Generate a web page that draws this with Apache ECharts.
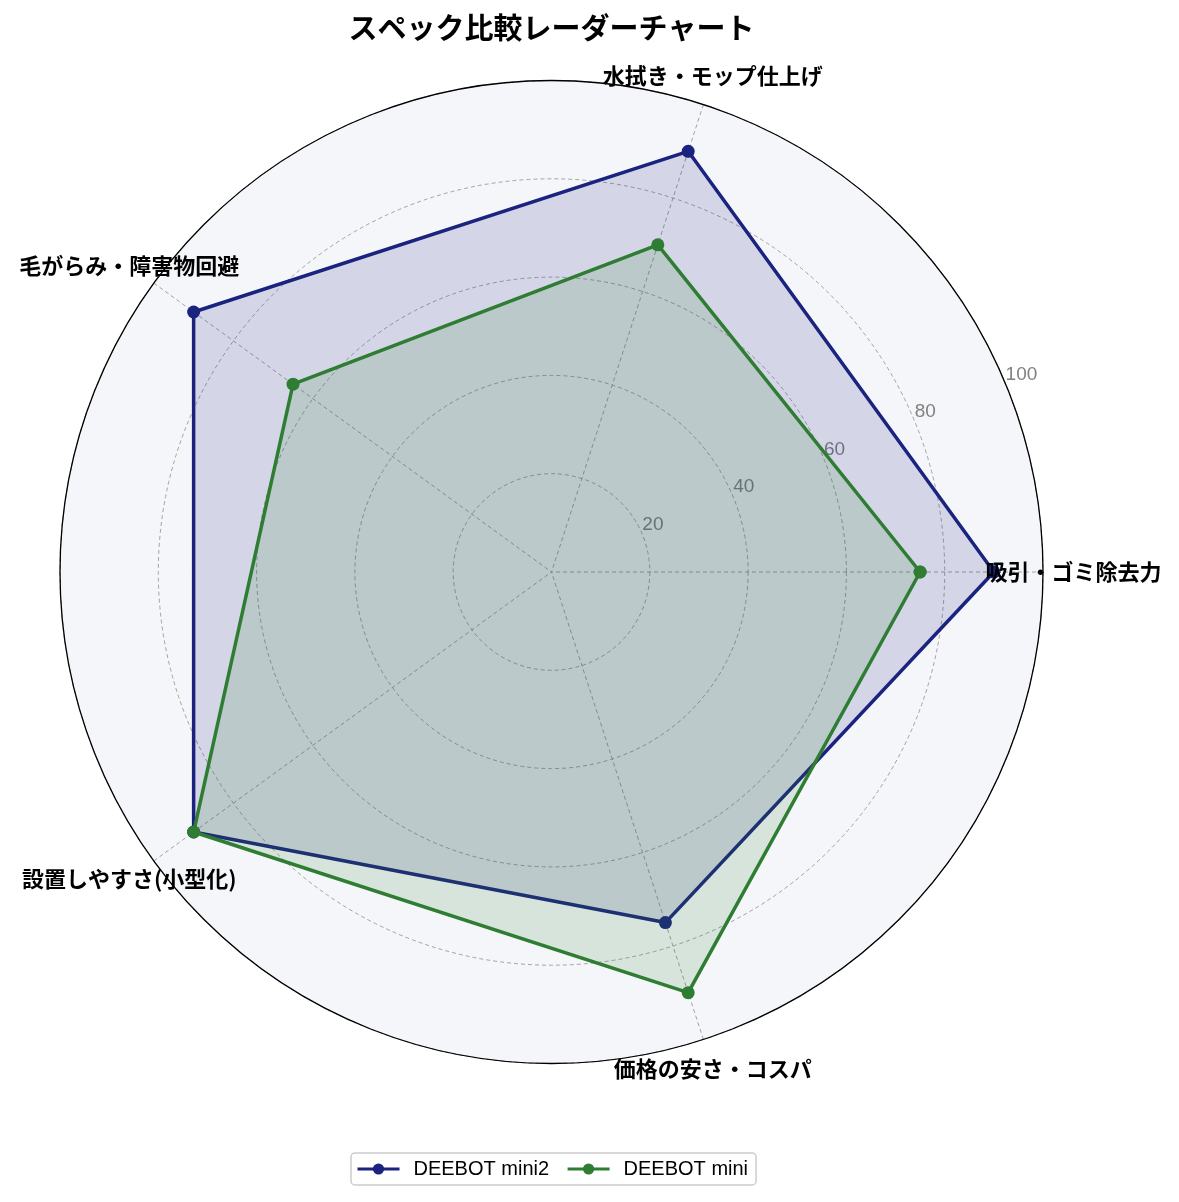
<!DOCTYPE html>
<html lang="ja">
<head>
<meta charset="UTF-8">
<title>スペック比較レーダーチャート</title>
<script src="https://cdn.jsdelivr.net/npm/echarts@6.0.0/dist/echarts.min.js"></script>
<style>
html, body { margin: 0; padding: 0; background: #fff; }
#chart { width: 1179px; height: 1202px; }
</style>
</head>
<body>
<div id="chart"></div>
<script>
// data
var categories = ['吸引・ゴミ除去力', '水拭き・モップ仕上げ', '毛がらみ・障害物回避', '設置しやすさ(小型化)', '価格の安さ・コスパ'];
var seriesNames = ['DEEBOT mini2', 'DEEBOT mini'];
var mini2Values = [90, 90, 90, 90, 75];
var miniValues = [75, 70, 65, 90, 90];
var radialTicks = [20, 40, 60, 80, 100];

var center = [551.5, 572];
var radius = 491.5;
var labelRadius = 106.2; // category names sit just outside the 100 ring
var step = 360 / categories.length;
var navy = '#1a237e';
var green = '#2e7d32';
var jp = '"Noto Sans CJK JP", sans-serif';
var latin = '"Liberation Sans", "Noto Sans CJK JP", sans-serif';

// [radius, angle] per category, first one repeated so the shape closes
function closedLoop(values) {
	var pts = values.map(function (v, i) { return [v, i * step]; });
	pts.push([values[0], values.length * step]);
	return pts;
}

var gridLine = { color: '#999', width: 0.9, type: [4, 3] };

var myChart = echarts.init(document.getElementById('chart'));

var option = {
	animation: false,
	backgroundColor: '#fff',
	title: {
		text: 'スペック比較レーダーチャート',
		left: center[0] - 5,
		top: 8,
		textAlign: 'center',
		textVerticalAlign: 'top',
		textStyle: { fontFamily: jp, fontSize: 29, fontWeight: 'bold', color: '#000' }
	},
	legend: {
		data: seriesNames,
		left: 351,
		top: 1153,
		padding: [6, 8, 6, 5],
		borderColor: '#cccccc',
		borderWidth: 1.5,
		borderRadius: 4,
		itemWidth: 42,
		itemHeight: 14,
		itemGap: 17,
		lineStyle: { width: 3 },
		textStyle: { fontFamily: latin, fontSize: 20, color: '#000', padding: [0, 0, 0, 9] }
	},
	polar: [
		{ center: center, radius: radius },
		{ center: center, radius: radius }
	],
	angleAxis: [
		{
			polarIndex: 0,
			type: 'value',
			min: 0,
			max: 360,
			interval: step,
			startAngle: 0,
			clockwise: false,
			axisLine: { show: true, lineStyle: { color: '#000', width: 1.3 } },
			axisTick: { show: false },
			axisLabel: { show: false },
			splitLine: { show: true, lineStyle: gridLine },
			z: 2
		},
		{
			polarIndex: 1,
			type: 'value',
			min: 0,
			max: 360,
			startAngle: 22.5,
			clockwise: false,
			show: false
		}
	],
	radiusAxis: [
		{
			polarIndex: 0,
			min: 0,
			max: 100,
			interval: 20,
			axisLine: { show: false },
			axisTick: { show: false },
			axisLabel: { show: false },
			splitLine: { show: true, lineStyle: gridLine },
			z: 2
		},
		{
			polarIndex: 1,
			min: 0,
			max: 100,
			interval: 20,
			axisLine: { show: false },
			axisTick: { show: false },
			splitLine: { show: false },
			splitArea: { show: true, areaStyle: { color: ['#f5f6fa', '#f5f6fa'] } },
			axisLabel: {
				show: true,
				margin: 0,
				align: 'left',
				verticalAlign: 'bottom',
				color: '#808080',
				fontFamily: latin,
				fontSize: 19,
				formatter: function (v) { return radialTicks.indexOf(v) >= 0 ? String(v) : ''; }
			},
			z: 0
		}
	],
	series: [
		{
			name: seriesNames[0],
			type: 'line',
			coordinateSystem: 'polar',
			polarIndex: 0,
			data: closedLoop(mini2Values),
			symbol: 'circle',
			symbolSize: 13,
			color: navy,
			lineStyle: { color: navy, width: 3.5 },
			itemStyle: { color: navy },
			areaStyle: { color: navy, opacity: 0.15 },
			z: 3
		},
		{
			name: seriesNames[1],
			type: 'line',
			coordinateSystem: 'polar',
			polarIndex: 0,
			data: closedLoop(miniValues),
			symbol: 'circle',
			symbolSize: 13,
			color: green,
			lineStyle: { color: green, width: 3.5 },
			itemStyle: { color: green },
			areaStyle: { color: green, opacity: 0.15 },
			z: 4
		},
		{
			name: 'labels',
			type: 'scatter',
			coordinateSystem: 'polar',
			polarIndex: 0,
			clip: false,
			data: categories.map(function (c, i) { return [labelRadius, i * step]; }),
			symbolSize: 1,
			itemStyle: { color: '#000', opacity: 0 },
			silent: true,
			label: {
				show: true,
				position: 'inside',
				align: 'center',
				verticalAlign: 'middle',
				color: '#000',
				opacity: 1,
				textBorderWidth: 0,
				fontFamily: jp,
				fontSize: 22,
				fontWeight: 'bold',
				formatter: function (p) { return categories[Math.round(p.data[1] / step)]; }
			},
			z: 10
		}
	]
};

myChart.setOption(option);
</script>
</body>
</html>
